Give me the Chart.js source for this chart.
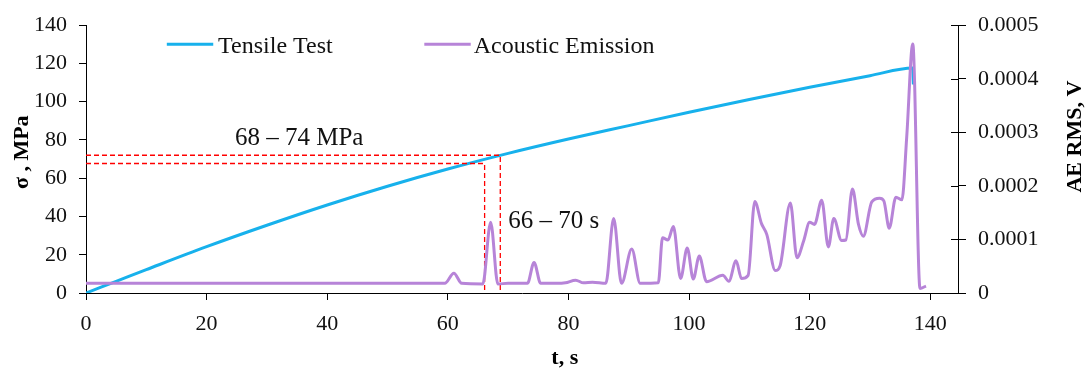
<!DOCTYPE html>
<html>
<head>
<meta charset="utf-8">
<script src="https://cdn.jsdelivr.net/npm/chart.js@4.4.1/dist/chart.umd.min.js"></script>
<style>
  html, body { margin: 0; padding: 0; background: #fff; }
  #wrap { width: 1088px; height: 369px; }
</style>
</head>
<body>
<div id="wrap"><canvas id="myChart" width="1088" height="369"></canvas></div>
<script>
// tensile test: time (s) / stress (MPa)
const tensileT = [0, 5, 10, 20, 30, 40, 50, 60, 70, 80, 90, 100, 110, 120, 130, 137.1, 137.2];
const tensileS = [0, 6.1, 12.2, 24.2, 35.4, 46, 55.8, 64.8, 73, 80.5, 87.5, 94.5, 101.2, 107.6, 113.6, 117.6, 109];

// acoustic emission: time (s) / RMS (V)
const aeT = [0, 20, 40, 59.5, 61, 62.3, 65.8, 67.1, 68.3, 70, 73.2, 74.3, 75.4, 78, 79.5, 81.2, 82.5, 84, 86.2,
  87.5, 88.8, 90.5, 91.9, 94.9, 95.6, 96.5, 97.4, 98.6, 99.7, 100.7, 101.7, 102.9, 105.6, 106.6, 107.8, 108.7,
  109.8, 110.9, 112, 112.9, 114.3, 115.1, 116.8, 117.9, 119, 120, 120.8, 122, 123.1, 124, 125.3, 126, 127.1,
  128.1, 128.9, 130.3, 131.6, 132.3, 133.2, 134.3, 135.3, 136.1, 137.1, 138.3, 139.3];
const aeV = [1.8e-5, 1.8e-5, 1.8e-5, 1.8e-5, 3.7e-5, 1.8e-5, 1.7e-5, 1.32e-4, 1.7e-5, 1.8e-5, 1.8e-5, 5.7e-5, 1.8e-5, 1.8e-5, 1.9e-5, 2.4e-5, 1.9e-5, 2.0e-5, 1.8e-5,
  1.39e-4, 1.8e-5, 8.2e-5, 1.8e-5, 1.9e-5, 1.03e-4, 9.9e-5, 1.24e-4, 2.7e-5, 8.4e-5, 2.6e-5, 6.9e-5, 2.1e-5, 3.3e-5, 2.2e-5, 6.0e-5, 2.7e-5,
  3.3e-5, 1.71e-4, 1.30e-4, 1.09e-4, 4.2e-5, 5.1e-5, 1.68e-4, 6.6e-5, 9.7e-5, 1.32e-4, 1.28e-4, 1.73e-4, 8.6e-5, 1.39e-4, 9.8e-5, 9.9e-5, 1.94e-4,
  1.28e-4, 1.06e-4, 1.70e-4, 1.77e-4, 1.72e-4, 1.21e-4, 1.79e-4, 1.74e-4, 2.92e-4, 4.65e-4, 8.6e-6, 1.3e-5];

// marked interval (red dashed)
const markT = [66.1, 68.7];
const markS = [67.7, 72];

const xTicks = [0, 20, 40, 60, 80, 100, 120, 140];
const sTicks = [0, 20, 40, 60, 80, 100, 120, 140];
const aeTicks = [0, 0.0001, 0.0002, 0.0003, 0.0004, 0.0005];

const serif = "'Liberation Serif', 'Times New Roman', serif";
const blue = "#17B1EC";
const purple = "#B784D8";

const toPts = (xs, ys) => xs.map((v, i) => ({ x: v, y: ys[i] }));

const overlay = {
  id: "overlay",
  afterDraw(chart) {
    const { ctx, scales: { x, y, y1 } } = chart;
    ctx.save();

    // right axis ticks cross the axis line
    ctx.strokeStyle = "#000";
    ctx.lineWidth = 1;
    aeTicks.forEach((v) => {
      const py = Math.round(y1.getPixelForValue(v)) + 0.5;
      ctx.beginPath();
      ctx.moveTo(y1.left - 7, py);
      ctx.lineTo(y1.left, py);
      ctx.stroke();
    });

    // legend (inside plot)
    const ly = y.getPixelForValue(130.1);
    const items = [
      { text: "Tensile Test", color: blue, t0: 13.4, t1: 21.1, tt: 21.9 },
      { text: "Acoustic Emission", color: purple, t0: 56.1, t1: 63.8, tt: 64.3 },
    ];
    ctx.font = "24px " + serif;
    ctx.textAlign = "left";
    ctx.textBaseline = "alphabetic";
    items.forEach((it) => {
      ctx.strokeStyle = it.color;
      ctx.lineWidth = 3;
      ctx.beginPath();
      ctx.moveTo(x.getPixelForValue(it.t0), ly);
      ctx.lineTo(x.getPixelForValue(it.t1), ly);
      ctx.stroke();
      ctx.fillStyle = "#111";
      ctx.fillText(it.text, x.getPixelForValue(it.tt), ly + 8.5);
    });

    // annotations
    ctx.font = "25px " + serif;
    ctx.fillText("68 – 74 MPa", x.getPixelForValue(24.7), y.getPixelForValue(77.3));
    ctx.fillText("66 – 70 s", x.getPixelForValue(70), y.getPixelForValue(34.2));

    // axis titles
    ctx.font = "bold 22px " + serif;
    ctx.fillStyle = "#000";
    ctx.textAlign = "center";
    ctx.textBaseline = "middle";
    ctx.fillText("t, s", x.getPixelForValue(79.4), chart.height - 11);

    ctx.save();
    ctx.translate(22, y.getPixelForValue(73.6));
    ctx.rotate(-Math.PI / 2);
    ctx.fillText("σ , MPa", 0, 0);
    ctx.restore();

    ctx.save();
    ctx.translate(chart.width - 13, y1.getPixelForValue(0.000292));
    ctx.rotate(-Math.PI / 2);
    ctx.fillText("AE RMS, V", 0, 0);
    ctx.restore();

    ctx.restore();
  },
};

const cht = document.getElementById("myChart");

const chart = new Chart(cht, {
  type: "line",
  data: {
    datasets: [
      {
        label: "Acoustic Emission",
        data: toPts(aeT, aeV),
        yAxisID: "y1",
        borderColor: purple,
        borderWidth: 3,
        pointRadius: 0,
        cubicInterpolationMode: "monotone",
      },
      {
        label: "mark1",
        data: [{ x: 0, y: markS[1] }, { x: markT[1], y: markS[1] }, { x: markT[1], y: 0 }],
        yAxisID: "y",
        borderColor: "#FF0000",
        borderWidth: 1.3,
        borderDash: [5, 3],
        pointRadius: 0,
        tension: 0,
      },
      {
        label: "mark0",
        data: [{ x: 0, y: markS[0] }, { x: markT[0], y: markS[0] }, { x: markT[0], y: 0 }],
        yAxisID: "y",
        borderColor: "#FF0000",
        borderWidth: 1.3,
        borderDash: [5, 3],
        pointRadius: 0,
        tension: 0,
      },
      {
        label: "Tensile Test",
        data: toPts(tensileT, tensileS),
        yAxisID: "y",
        borderColor: blue,
        borderWidth: 3,
        pointRadius: 0,
        cubicInterpolationMode: "monotone",
      },
    ],
  },
  options: {
    responsive: false,
    animation: false,
    devicePixelRatio: 1,
    layout: { padding: { top: 19, left: 0, right: 0, bottom: 0 } },
    plugins: {
      legend: { display: false },
      tooltip: { enabled: false },
    },
    scales: {
      x: {
        type: "linear",
        min: 0,
        max: 144.6,
        afterBuildTicks: (s) => { s.ticks = xTicks.map((v) => ({ value: v })); },
        afterFit: (s) => { s.height = 76; },
        border: { display: true, color: "#000", width: 1 },
        grid: { drawOnChartArea: false, drawTicks: true, tickLength: 7, color: "#000" },
        ticks: { font: { family: serif, size: 22 }, color: "#111", padding: 11, maxRotation: 0, autoSkip: false },
      },
      y: {
        position: "left",
        min: 0,
        max: 140,
        afterBuildTicks: (s) => { s.ticks = sTicks.map((v) => ({ value: v })); },
        afterFit: (s) => { s.width = 86; },
        border: { display: true, color: "#000", width: 1 },
        grid: { drawOnChartArea: false, drawTicks: true, tickLength: 7, color: "#000" },
        ticks: { font: { family: serif, size: 22 }, color: "#111", padding: 12 },
      },
      y1: {
        position: "right",
        min: 0,
        max: 0.0005,
        afterBuildTicks: (s) => { s.ticks = aeTicks.map((v) => ({ value: v })); },
        afterFit: (s) => { s.width = 130; },
        border: { display: true, color: "#000", width: 1 },
        grid: { drawOnChartArea: false, drawTicks: true, tickLength: 8, color: "#000" },
        ticks: {
          font: { family: serif, size: 22 },
          color: "#111",
          padding: 12,
          callback: (v) => (v === 0 ? "0" : v.toFixed(4)),
        },
      },
    },
  },
  plugins: [overlay],
});
</script>
</body>
</html>
